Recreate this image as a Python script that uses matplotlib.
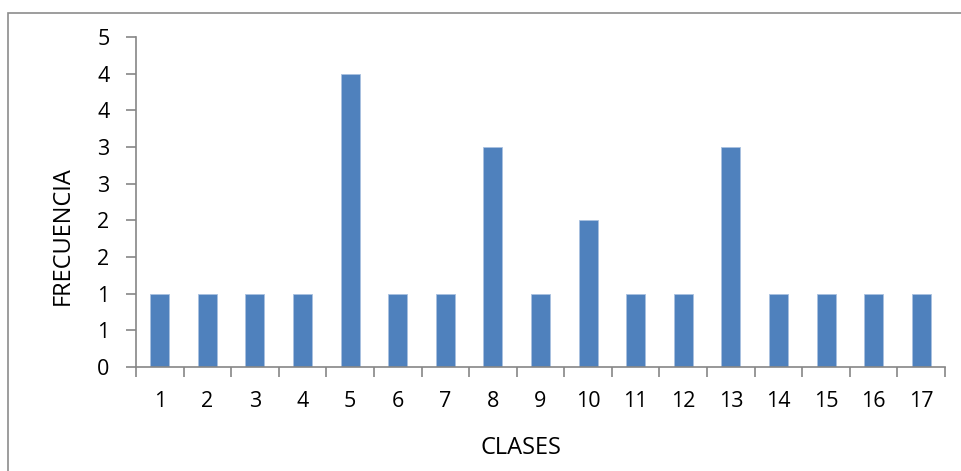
import matplotlib.pyplot as plt
from matplotlib.patches import Rectangle

plt.rcParams['font.family'] = ['Open Sans', 'DejaVu Sans']

clases = ["1", "2", "3", "4", "5", "6", "7", "8", "9", "10", "11", "12", "13", "14", "15", "16", "17"]
frecuencia = [1, 1, 1, 1, 4, 1, 1, 3, 1, 2, 1, 1, 3, 1, 1, 1, 1]
ytick_vals = [0, 0.5, 1, 1.5, 2, 2.5, 3, 3.5, 4, 4.5]
ytick_labels = ["0", "1", "1", "2", "2", "3", "3", "4", "4", "5"]

W, H = 961, 471
fig = plt.figure(figsize=(W / 100, H / 100), dpi=100)

# chart area border (Excel style)
fig.patches.append(Rectangle((8 / W, -0.05), 1.0, (H - 13) / H + 0.05, transform=fig.transFigure,
                             fill=False, edgecolor="#8c8c8c", linewidth=1.2))

ax = fig.add_axes([136 / W, (H - 367) / H, (945 - 136) / W, (367 - 37) / H])

x = list(range(len(clases)))
ax.bar(x, frecuencia, width=0.4, color="#4f81bd", edgecolor="#a9c1e0", linewidth=0.6, zorder=2)

ax.set_xlim(-0.5, len(clases) - 0.5)
ax.set_ylim(0, 4.5)
ax.set_yticks(ytick_vals)
ax.set_yticklabels(ytick_labels)
ax.set_xticks(x)
ax.set_xticklabels(clases)
ax.set_xticks([i - 0.5 for i in range(len(clases) + 1)], minor=True)

axis_col = "#868686"
for s in ["top", "right"]:
    ax.spines[s].set_visible(False)
for s in ["left", "bottom"]:
    ax.spines[s].set_color(axis_col)
    ax.spines[s].set_linewidth(1.2)

ax.tick_params(axis="y", length=7, width=1.2, color=axis_col, labelsize=15.5, pad=12)
ax.tick_params(axis="x", which="major", length=0, labelsize=15.5, pad=17)
ax.tick_params(axis="x", which="minor", length=7, width=1.2, color=axis_col)

ax.set_xlabel("CLASES", fontsize=17, va="center")
ax.xaxis.set_label_coords(0.476, -0.245)
ax.set_ylabel("FRECUENCIA", fontsize=17, va="center")
ax.yaxis.set_label_coords(-0.09, 0.397)

fig.savefig("out.png", dpi=100)
